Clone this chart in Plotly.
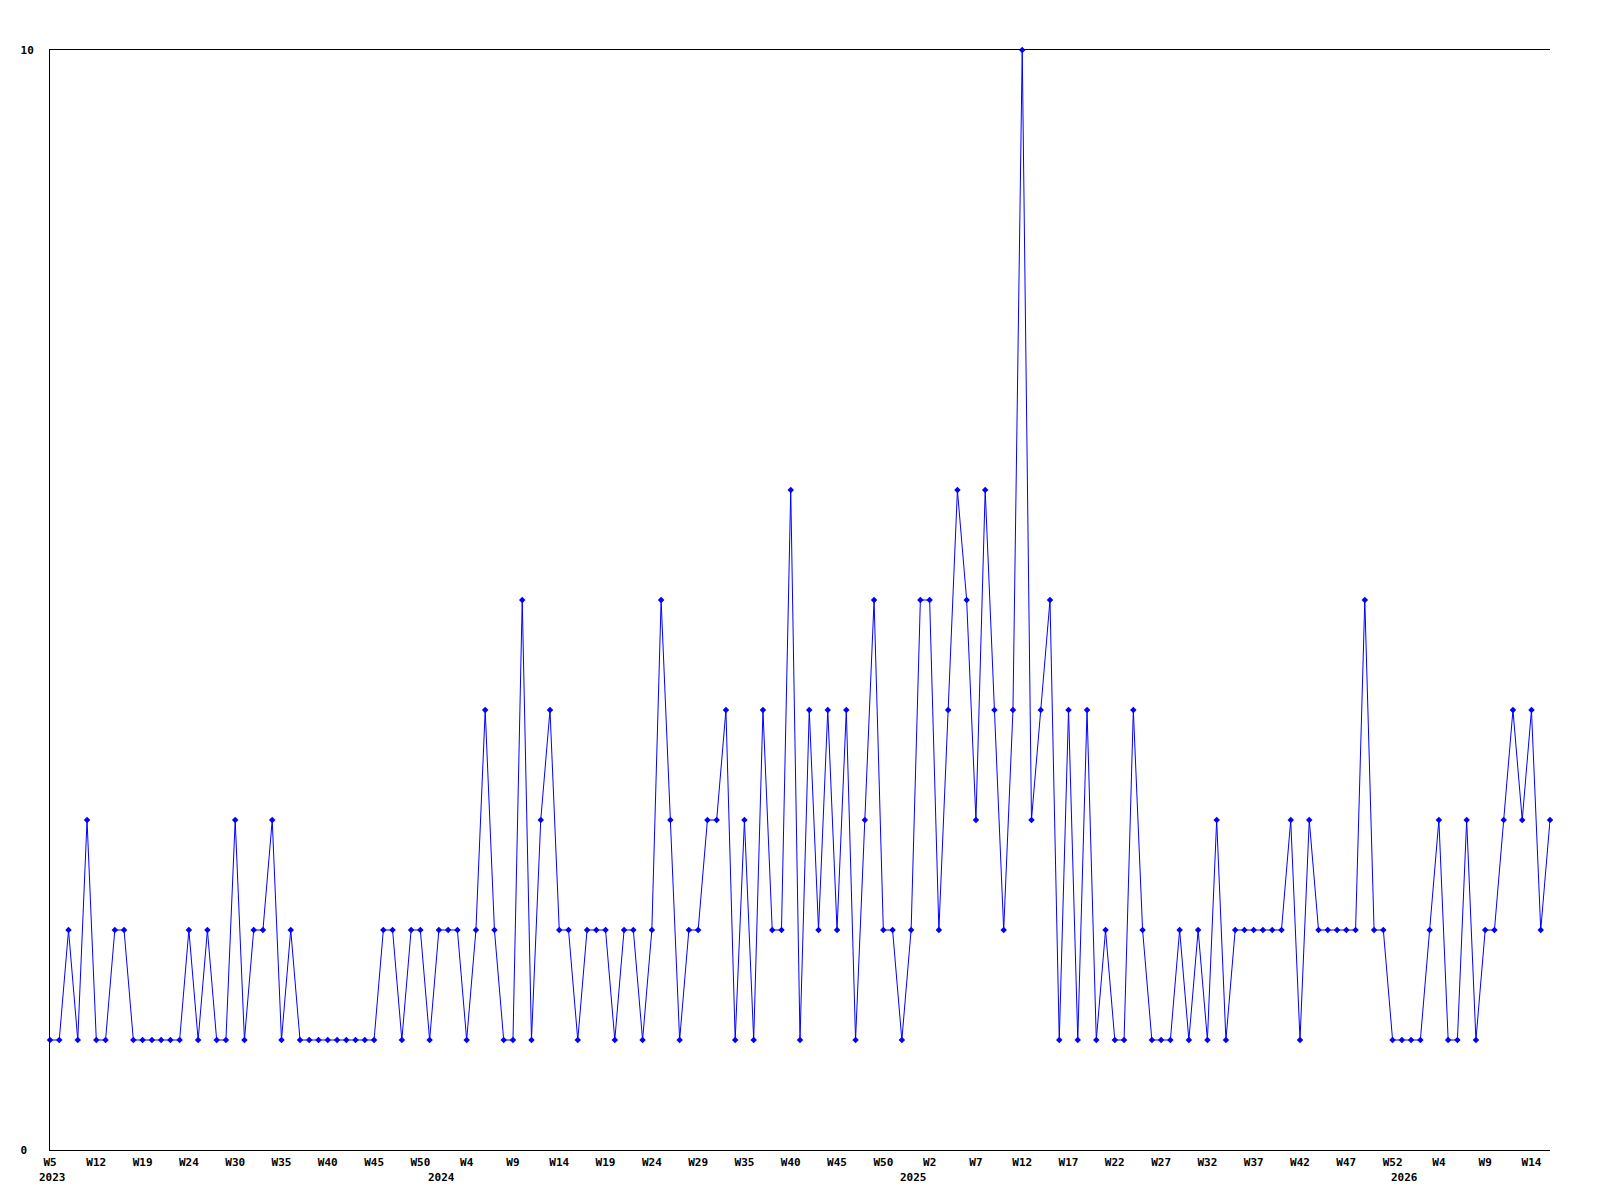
import plotly.graph_objects as go

# Weekly counts (one point per reported week, 2023 W5 .. 2026 W16)
values = [
    1, 1, 2, 1, 3, 1, 1, 2, 2, 1, 1, 1, 1, 1, 1, 2, 1, 2, 1, 1, 3,
    1, 2, 2, 3, 1, 2, 1, 1, 1, 1, 1, 1, 1, 1, 1, 2, 2, 1, 2, 2, 1,
    2, 2, 2, 1, 2, 4, 2, 1, 1, 5, 1, 3, 4, 2, 2, 1, 2, 2, 2, 1,
    2, 2, 1, 2, 5, 3, 1, 2, 2, 3, 3, 4, 1, 3, 1, 4, 2, 2, 6, 1, 4,
    2, 4, 2, 4, 1, 3, 5, 2, 2, 1, 2, 5, 5, 2, 4, 6, 5, 3, 6, 4,
    2, 4, 10, 3, 4, 5, 1, 4, 1, 4, 1, 2, 1, 1, 4, 2, 1, 1, 1, 2, 1,
    2, 1, 3, 1, 2, 2, 2, 2, 2, 2, 3, 1, 3, 2, 2, 2, 2, 2, 5, 2,
    2, 1, 1, 1, 1, 2, 3, 1, 1, 3, 1, 2, 2, 3, 4, 3, 4, 2, 3,
]

# Tick labels shown every 5th point
week_labels = [
    "W5", "W12", "W19", "W24", "W30", "W35", "W40", "W45", "W50",
    "W4", "W9", "W14", "W19", "W24", "W29", "W35", "W40", "W45", "W50",
    "W2", "W7", "W12", "W17", "W22", "W27", "W32", "W37", "W42", "W47", "W52",
    "W4", "W9", "W14",
]
label_step = 5

# Year labels and the point index where each year begins
years = ["2023", "2024", "2025", "2026"]
year_start_index = [0, 42, 93, 146]

y_tick_values = [0, 10]
y_tick_text = ["0\u00a0", "10"]

x = list(range(len(values)))
tickvals = [i * label_step for i in range(len(week_labels))]

FONT = "DejaVu Sans Mono"

fig = go.Figure()
fig.add_trace(go.Scatter(
    x=x, y=values, mode="lines+markers",
    line=dict(color="#0000ff", width=1),
    marker=dict(symbol="diamond", size=5, color="#0000ff"),
    cliponaxis=False,
    hoverinfo="skip",
))

for yr, idx in zip(years, year_start_index):
    fig.add_annotation(
        x=idx + 0.3, y=0, xref="x", yref="paper",
        text=yr, showarrow=False,
        xanchor="center", yanchor="middle", yshift=-27,
        font=dict(family=FONT, size=11, color="black", weight="bold"),
    )

# page body has an 8px default margin; compensate so the plot area
# spans x 50..1550 and y 50..1150 in the 1600x1200 window
fig.update_layout(
    width=1592, height=1192,
    margin=dict(l=42, r=50, t=42, b=50),
    paper_bgcolor="white", plot_bgcolor="white",
    showlegend=False,
    xaxis=dict(
        range=[0, len(values) - 1],
        tickvals=tickvals, ticktext=week_labels,
        showgrid=False, zeroline=False,
        showline=True, linecolor="black", linewidth=1, mirror=True,
        ticks="", ticklabelstandoff=2,
        tickfont=dict(family=FONT, size=11, color="black", weight="bold"),
    ),
    yaxis=dict(
        range=[0, 10],
        tickvals=y_tick_values, ticktext=y_tick_text,
        showgrid=False, zeroline=False,
        showline=True, linecolor="black", linewidth=1, mirror=False,
        ticks="", ticklabelstandoff=13,
        tickfont=dict(family=FONT, size=11, color="black", weight="bold"),
    ),
)

fig.write_html("out.html")
